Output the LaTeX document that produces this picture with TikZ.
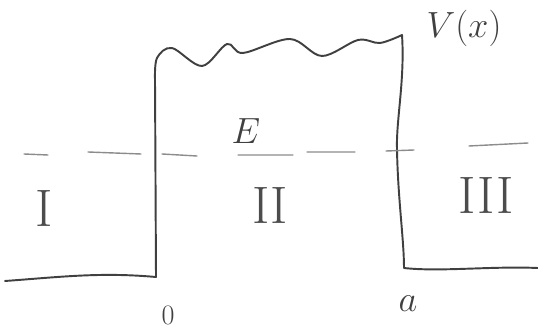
\documentclass[tikz,border=0pt]{standalone}
\usetikzlibrary{positioning}
\begin{document}
\begin{tikzpicture}[x=0.02cm, y=-0.02cm,
        pen/.style={draw=black!75, line width=1.1pt, line join=round, line cap=round},
        level/.style={draw=black!45, line width=0.8pt, line cap=round},
        region/.style={font=\fontsize{30}{34}\selectfont, text=black!70, inner sep=0pt},
        mark label/.style={font=\fontsize{20}{24}\selectfont, text=black!75, inner sep=0pt},
    ]
        \useasboundingbox (0,0) rectangle (538,331);

        % Corners of the barrier
        \coordinate (left end) at (5,281);
        \coordinate (left foot) at (156,277);
        \coordinate (left top) at (155,80);
        \coordinate (right top) at (402,35);
        \coordinate (right foot) at (404,268);
        \coordinate (right end) at (538,268);

        % Potential V(x)
        \draw[pen] (left end) .. controls (60,277) and (100,272) .. (left foot)
            -- (left top)
            plot[smooth, tension=0.55] coordinates {(155,80) (157,58) (172,48) (202,66) (227,44)
                (243,53) (290,39) (322,56) (358,40) (380,43) (402,35)}
            .. controls (405,80) and (396,120) .. (397,150)
            .. controls (398,200) and (404,240) .. (right foot)
            .. controls (440,272) and (490,266) .. (right end);

        % Energy level E
        \draw[level] (24,154) -- (48,155)
            (88,152) -- (141,154)
            (162,154) -- (197,156)
            (238,155) -- (293,155)
            (307,152) -- (355,152)
            (386,151) -- (414,150)
            (469,146) -- (528,143);

        % Labels
        \node[mark label] (vx) at (464,28) {$V(x)$};
        \node[mark label] (energy) at (246,131) {$E$};
        \node[region] (one) at (44,209) {I};
        \node[region] (two) at (270,205) {II};
        \node[region] (three) at (486,196) {III};
        \node[mark label, font=\fontsize{16}{19}\selectfont] (zero) at (168,315) {0};
        \node[mark label] (width) at (408,304) {$a$};
    \end{tikzpicture}
\end{document}
